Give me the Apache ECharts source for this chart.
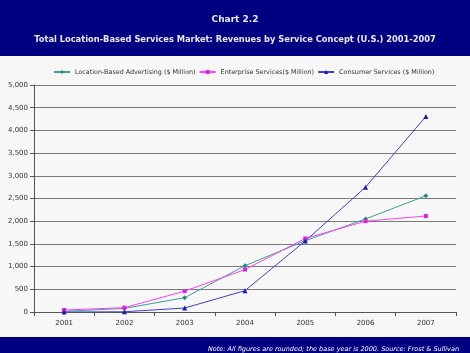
<!DOCTYPE html>
<html><head><meta charset="utf-8">
<script src="https://cdn.jsdelivr.net/npm/echarts@6/dist/echarts.min.js"></script>
<style>html,body{margin:0;padding:0;background:#f7f7f7}#c{width:470px;height:353px}</style>
</head><body><div id="c"></div>
<script>
const categories = ['2001','2002','2003','2004','2005','2006','2007'];
const advertising = [15, 80, 315, 1020, 1570, 2050, 2560];
const enterprise = [44, 95, 460, 935, 1620, 2000, 2115];
const consumer = [0, 5, 88, 470, 1565, 2750, 4305];
const seriesNames = ['Location-Based Advertising ($ Million)', 'Enterprise Services($ Million)', 'Consumer Services ($ Million)'];
const titleText = 'Chart 2.2';
const subtitleText = 'Total Location-Based Services Market: Revenues by Service Concept (U.S.) 2001-2007';
const noteText = 'Note: All figures are rounded; the base year is 2000. Source: Frost & Sullivan';

const chart = echarts.init(document.getElementById('c'), null, {renderer:'canvas'});
const F = 'Verdana, "DejaVu Sans", sans-serif';
chart.setOption({
  backgroundColor: '#f7f7f7',
  animation: false,
  graphic: [
    {type:'rect', left:0, top:0, shape:{width:470, height:56}, style:{fill:'#000080'}, z:-1},
    {type:'rect', left:0, top:337, shape:{width:470, height:16}, style:{fill:'#000080'}, z:-1}
  ],
  title: [
    {text: titleText, left:'center', top:10, textStyle:{color:'#e8e8ff', fontFamily:F, fontSize:9, fontWeight:'bold'}},
    {text: subtitleText, left:'center', top:31, textStyle:{color:'#e8e8ff', fontFamily:F, fontSize:8.3, fontWeight:'bold'}},
    {text: noteText, right:6, top:341, textStyle:{color:'#ffffff', fontFamily:F, fontSize:6.5, fontStyle:'italic', fontWeight:'normal'}}
  ],
  legend: {
    top: 64, left:48, itemWidth:16, itemHeight:5, itemGap:3,
    textStyle:{fontFamily:F, fontSize:6.4, color:'#333'},
    data: seriesNames
  },
  grid: {left:34, right:14, top:85, bottom:41},
  xAxis: {
    type:'category', data: categories, boundaryGap:true,
    axisLine:{lineStyle:{color:'#555'}},
    axisTick:{show:true, inside:false, length:4, lineStyle:{color:'#555'}},
    axisLabel:{fontFamily:F, fontSize:7, color:'#333', margin:8}
  },
  yAxis: {
    type:'value', min:0, max:5000, interval:500,
    axisLine:{show:true, lineStyle:{color:'#555'}},
    axisTick:{show:true, length:4, lineStyle:{color:'#555'}},
    axisLabel:{fontFamily:F, fontSize:7, color:'#333', margin:6,
      formatter: v => v.toLocaleString('en-US')},
    splitLine:{lineStyle:{color:'#7a7a7a', width:1}}
  },
  series: [
    {name:seriesNames[0], type:'line', data:advertising, symbol:'diamond', symbolSize:5,
     itemStyle:{color:'#2e8b7a'}, lineStyle:{color:'#3aa090', width:1}},
    {name:seriesNames[1], type:'line', data:enterprise, symbol:'rect', symbolSize:4,
     itemStyle:{color:'#e020e0'}, lineStyle:{color:'#ff40ff', width:1}},
    {name:seriesNames[2], type:'line', data:consumer, symbol:'triangle', symbolSize:5,
     itemStyle:{color:'#1a1ab0'}, lineStyle:{color:'#4040d0', width:1}}
  ]
});
</script></body></html>
